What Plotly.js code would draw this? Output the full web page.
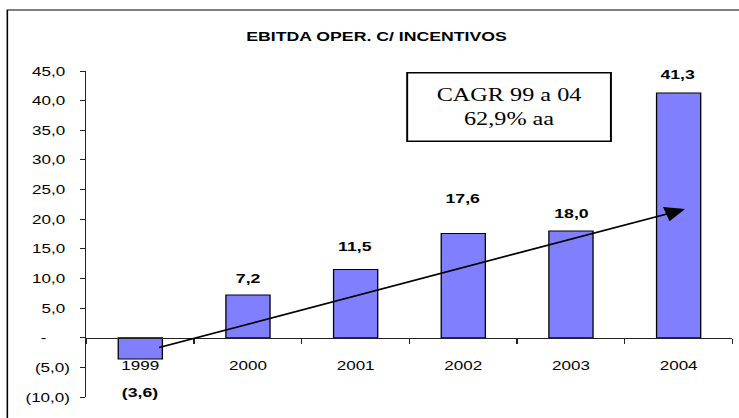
<!DOCTYPE html>
<html>
<head>
<meta charset="utf-8">
<script src="https://cdn.plot.ly/plotly-3.0.1.min.js"></script>
<style>
  html, body { margin: 0; padding: 0; background: #fff; overflow: hidden; }
  #chart { width: 564px; height: 418px; transform: scaleX(1.3103); transform-origin: 0 0; }
</style>
</head>
<body>
<div id="chart"></div>
<script>
// ---- data ----
const categories = ['1999', '2000', '2001', '2002', '2003', '2004'];
const ebitda = [-3.6, 7.2, 11.5, 17.6, 18.0, 41.3];
const yTickVals = [-10, -5, 0, 5, 10, 15, 20, 25, 30, 35, 40, 45];
const yTickLabels = ['(10,0)', '(5,0)', '-', '5,0', '10,0', '15,0', '20,0', '25,0', '30,0', '35,0', '40,0', '45,0'];
const chartTitle = 'EBITDA OPER. C/ INCENTIVOS';
const cagrLines = ['CAGR 99 a 04', '62,9% aa'];

// ---- style / placement (not data) ----
const labelShift = [-33, 17, 23, 35, 17.5, 18];   // px offsets of the value labels
const W = 564, H = 418;
const M = { l: 66, r: 5, t: 71, b: 21 };
const plotW = W - M.l - M.r, plotH = H - M.t - M.b;
const NB = '\u00a0';

function fmt(v) {
  const s = Math.abs(v).toFixed(1).replace('.', ',');
  return v < 0 ? '(' + s + ')' : s;
}
function padTick(t) {
  if (t === '-') return '-' + NB.repeat(5);
  if (t.endsWith(')')) return t;
  return t + NB;
}

const SANS = 'Liberation Sans';
const SERIF = 'Liberation Serif';

const trace = {
  type: 'bar',
  x: categories,
  y: ebitda,
  width: 0.41,
  marker: { color: '#8080FF', line: { color: '#000000', width: 1 } },
  hoverinfo: 'none'
};

const annotations = categories.map((c, i) => ({
  x: i, y: ebitda[i], xref: 'x', yref: 'y',
  text: '<b>' + fmt(ebitda[i]) + '</b>',
  showarrow: false, yanchor: 'middle', xanchor: 'center',
  yshift: labelShift[i],
  font: { family: SANS, size: 13.5, color: '#000000' }
}));

// trend arrow
annotations.push({
  xref: 'x', yref: 'y', axref: 'x', ayref: 'y',
  x: 5.06, y: 21.7, ax: 0.157, ay: -1.74,
  text: '', showarrow: true, arrowhead: 2, arrowsize: 1.9, arrowwidth: 1.6,
  arrowcolor: '#000000', standoff: 0
});

// CAGR box
annotations.push({
  xref: 'x', yref: 'y', x: 3.419, y: 38.9,
  xanchor: 'center', yanchor: 'middle',
  text: cagrLines.join('<br>'), showarrow: false,
  width: 154, height: 67, align: 'center', valign: 'middle',
  bordercolor: '#000000', borderwidth: 1.5, borderpad: 0, bgcolor: '#ffffff',
  font: { family: SERIF, size: 18.5, color: '#000000' }
});

const px2paperX = X => (X - M.l) / plotW;
const px2paperY = Y => (H - M.b - Y) / plotH;

const layout = {
  width: W, height: H,
  margin: M,
  font: { family: SANS, color: '#000000' },
  paper_bgcolor: '#ffffff', plot_bgcolor: 'rgba(0,0,0,0)',
  showlegend: false,
  title: {
    text: '<b>' + chartTitle + '</b>',
    xref: 'container', yref: 'container',
    x: 287.4 / W, xanchor: 'center',
    y: 1 - 36 / H, yanchor: 'middle',
    font: { family: SANS, size: 13.5, color: '#000000' }
  },
  xaxis: {
    type: 'category',
    range: [-0.5, 5.5],
    anchor: 'free', position: 10 / 55,
    showline: true, linecolor: '#222222', linewidth: 1,
    ticks: 'outside', ticklen: 5, tickcolor: '#222222', tickwidth: 1,
    tickson: 'boundaries',
    ticklabelstandoff: 16,
    showgrid: false, zeroline: false,
    tickfont: { family: SANS, size: 13, color: '#000000' }
  },
  yaxis: {
    range: [-10, 45],
    domain: [0, 1],
    tickmode: 'array', tickvals: yTickVals, ticktext: yTickLabels.map(padTick),
    showline: true, linecolor: '#222222', linewidth: 1,
    ticks: 'outside', ticklen: 4, tickcolor: '#222222', tickwidth: 1,
    ticklabelstandoff: 5,
    showgrid: false, zeroline: false,
    tickfont: { family: SANS, size: 13, color: '#000000' }
  },
  annotations: annotations,
  shapes: [{
    type: 'rect', xref: 'paper', yref: 'paper',
    x0: px2paperX(5.6), x1: px2paperX(W + 20),
    y0: px2paperY(H + 20), y1: px2paperY(10),
    line: { color: '#000000', width: 1.2 }, fillcolor: 'rgba(0,0,0,0)', layer: 'above'
  }]
};

Plotly.newPlot('chart', [trace], layout, { staticPlot: true, displayModeBar: false });
</script>
</body>
</html>
